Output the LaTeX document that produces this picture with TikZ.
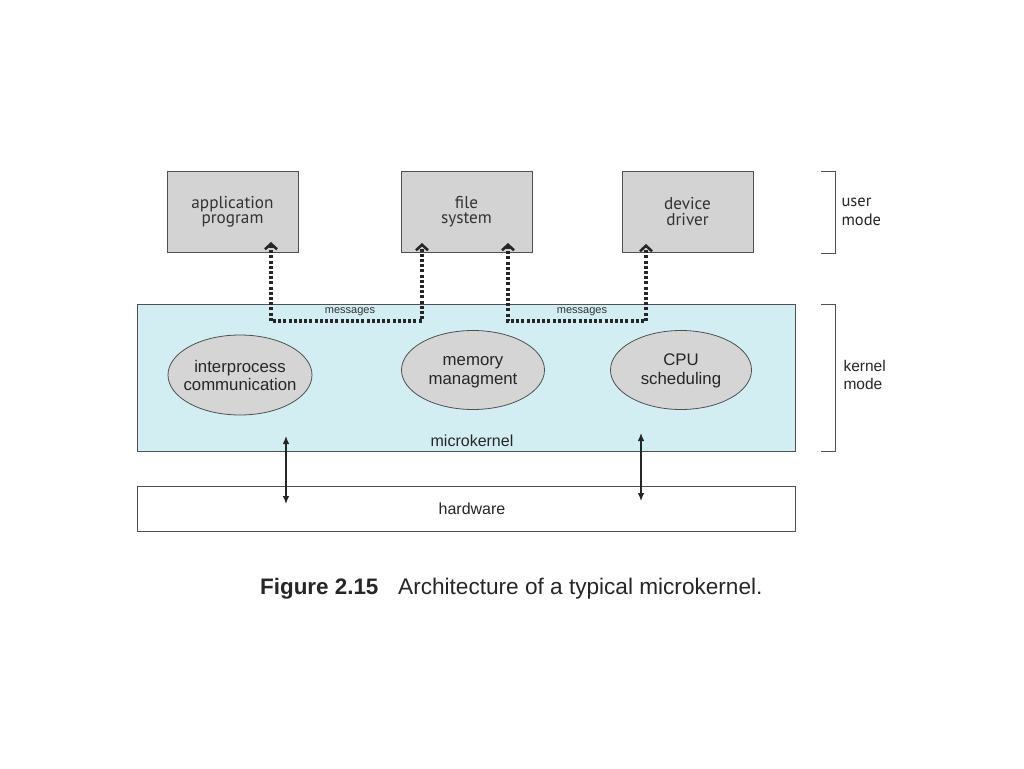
\documentclass[tikz,border=0pt]{standalone}
\usepackage{fontspec}
\setmainfont{Liberation Sans}
\newfontfamily\boxfont{PT Sans}
\usetikzlibrary{arrows.meta,shapes.geometric}
\definecolor{boxgray}{HTML}{D3D3D3}
\definecolor{ellgray}{HTML}{D5D5D5}
\definecolor{kerncyan}{HTML}{D3EEF3}
\definecolor{edge}{HTML}{505050}
\begin{document}
\begin{tikzpicture}[x=1pt,y=-1pt,
  ubox/.style={draw=edge, line width=0.9pt, fill=boxgray, minimum width=131pt, minimum height=81pt, inner sep=0pt,
     align=center, font=\boxfont\fontsize{17.2}{15.5}\selectfont, text=black!80},
  proc/.style={ellipse, draw=edge, line width=0.8pt, fill=ellgray, inner sep=0pt},
  proclbl/.style={inner sep=0pt, align=center, font=\fontsize{16.8}{17.5}\selectfont, text=black!85},
  layer/.style={draw=edge, line width=0.9pt, minimum width=658pt, inner sep=0pt},
  msg/.style={line width=3.2pt, dash pattern=on 3pt off 2.2pt, black!85,
     {Straight Barb[length=5.5pt,width=12pt,line width=2.6pt]}-{Straight Barb[length=5.5pt,width=12pt,line width=2.6pt]}},
  hw/.style={line width=1.2pt, black!85, {Latex[length=8pt,width=6.5pt]}-{Latex[length=8pt,width=6.5pt]}},
  brace/.style={line width=0.9pt, edge},
  lbl/.style={font=\fontsize{15.5}{18}\selectfont, align=left, anchor=west, text=black!85},
  small/.style={font=\fontsize{11}{12}\selectfont, text=black!80, inner sep=0pt}
]
\useasboundingbox[fill=white] (0,0) rectangle (1024,768);

% user processes
\node[ubox] (app) at (232.5,211.5) {application\\program};
\node[ubox] (fs) at (466.5,211.5) {file\\system};
\node[ubox] (dd) at (687.5,211.5) {device\\driver};

% kernel
\node[layer, fill=kerncyan, minimum height=147pt] (kern) at (466,377.5) {};
\node[proc, minimum width=144pt, minimum height=80pt] (ipc) at (240,375) {};
\node[proclbl] (ipcl) at (240,375.5) {interprocess\\communication};
\node[proc, minimum width=143pt, minimum height=79pt] (mem) at (473,370) {};
\node[proclbl, font=\fontsize{16.8}{19}\selectfont] (meml) at (473,372) {memory\\managment};
\node[proc, minimum width=141pt, minimum height=79pt] (cpu) at (681,370) {};
\node[proclbl, font=\fontsize{16.8}{19}\selectfont] (cpul) at (681,371) {CPU\\scheduling};
\node[font=\fontsize{16}{18}\selectfont, text=black!85, inner sep=0pt] (mk) at (472,441) {microkernel};

% hardware
\node[layer, fill=white, minimum height=45pt] (hw) at (466,508.5) {};
\node[font=\fontsize{16}{18}\selectfont, text=black!85, inner sep=0pt] (hwl) at (472,508.5) {hardware};

% message paths
\coordinate (a1) at (271,242);
\coordinate (b1) at (422,243);
\coordinate (a2) at (508,243);
\coordinate (b2) at (646,244);
\draw[msg] (a1) -- (271,321) -- (422,321) -- (b1);
\draw[msg] (a2) -- (508,321) -- (646,321) -- (b2);
\node[small] (m1) at (350,311.5) {messages};
\node[small] (m2) at (582,311.5) {messages};

% hardware arrows
\coordinate (h1t) at (286,436);
\coordinate (h1b) at (286,504);
\coordinate (h2t) at (641,433);
\coordinate (h2b) at (641,501);
\draw[hw] (h1t) -- (h1b);
\draw[hw] (h2t) -- (h2b);

% mode brackets
\draw[brace] (821,171) -- (835,171) -- (835,253) -- (821,253);
\draw[brace] (821,304) -- (835,304) -- (835,451) -- (821,451);
\node[lbl, font=\boxfont\fontsize{16.5}{19}\selectfont] (um) at (838,212) {user\\mode};
\node[lbl] (km) at (840,374.5) {kernel\\mode};

% caption
\node[anchor=base west, inner sep=0pt, font=\bfseries\fontsize{22.4}{24}\selectfont, text=black!85] (fig) at (260,594) {Figure 2.15};
\node[anchor=base west, inner sep=0pt, font=\fontsize{22.6}{24}\selectfont, text=black!85] (cap) at (398,594) {Architecture of a typical microkernel.};
\end{tikzpicture}
\end{document}
